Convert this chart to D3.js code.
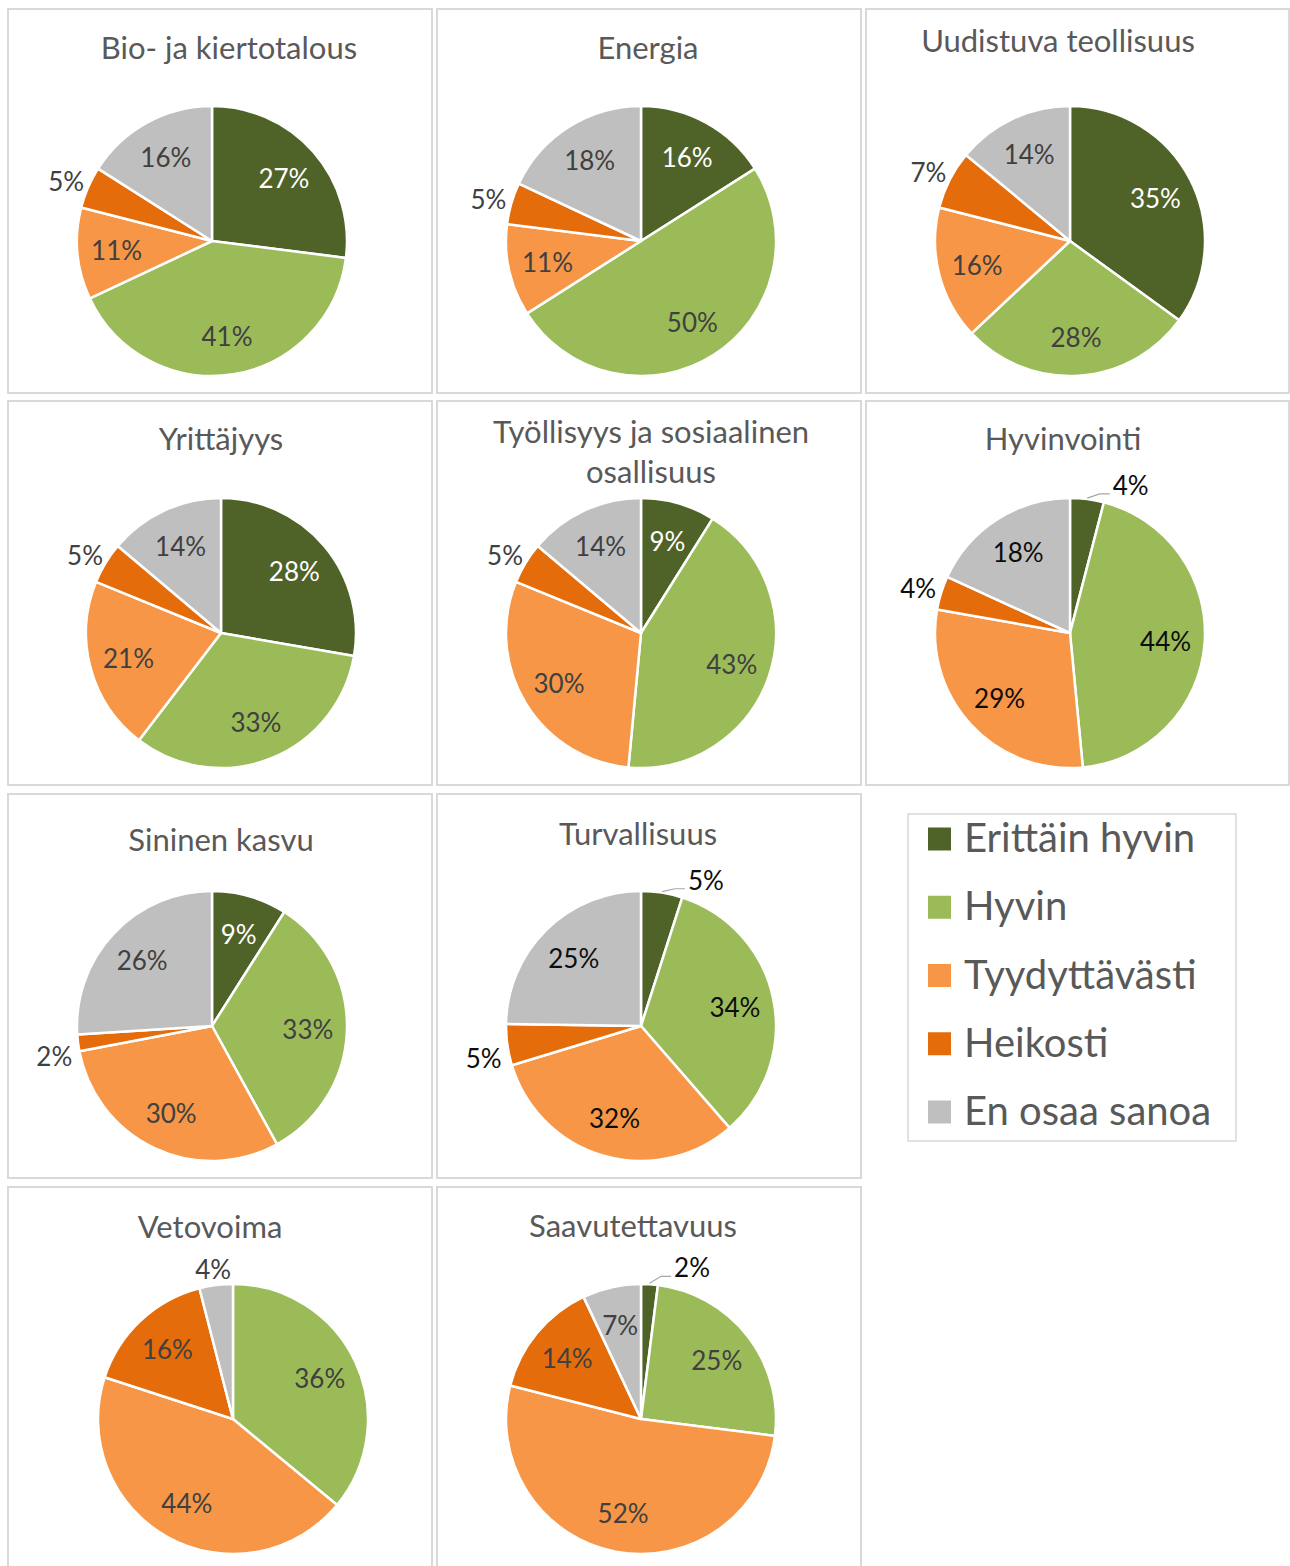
<!DOCTYPE html>
<html><head>
<meta charset="utf-8">
<script src="https://cdn.jsdelivr.net/npm/d3@7"></script>
<style>
body{
  margin: 0px;
  background: #fff;
}
text {
  font-family: Lato, "Open Sans", sans-serif;
}
.panel {
  fill: #fff;
  stroke: #d9d9d9;
  stroke-width: 2px;
}
.title {
  fill: #595959;
  font-size: 31px;
}
.lbl {
  font-size: 26px;
}
.leader {
  fill: none;
  stroke: #a6a6a6;
  stroke-width: 1.2px;
}
</style>
<title>Arviot</title>
</head>
<body>
<script>
var width = 1290,
    height = 1566;

// categories and colours
var categories = ["Erittäin hyvin", "Hyvin", "Tyydyttävästi", "Heikosti", "En osaa sanoa"];
var colors = ["#4f6228", "#9bbb59", "#f79646", "#e46c0a", "#bfbfbf"];

// one array per chart, same order as categories (%)
var bioKierto      = [27, 41, 11, 5, 16];
var energia        = [16, 50, 11, 5, 18];
var uudistuva      = [35, 28, 16, 7, 14];
var yrittajyys     = [28, 33, 21, 5, 14];
var tyollisyys     = [9, 43, 30, 5, 14];
var hyvinvointi    = [4, 44, 29, 4, 18];
var sininenKasvu   = [9, 33, 30, 2, 26];
var turvallisuus   = [5, 34, 32, 5, 25];
var vetovoima      = [0, 36, 44, 16, 4];
var saavutettavuus = [2, 25, 52, 14, 7];

var titles = [
  ["Bio- ja kiertotalous"], ["Energia"], ["Uudistuva teollisuus"],
  ["Yrittäjyys"], ["Työllisyys ja sosiaalinen", "osallisuus"], ["Hyvinvointi"],
  ["Sininen kasvu"], ["Turvallisuus"], ["Vetovoima"], ["Saavutettavuus"]
];
var series = [bioKierto, energia, uudistuva, yrittajyys, tyollisyys, hyvinvointi,
              sininenKasvu, turvallisuus, vetovoima, saavutettavuus];

// layout stuff (not data)
var slots = [0, 1, 2, 3, 4, 5, 6, 7, 9, 10];        // grid slot, 8 is the legend
var titleX = [221, 211, 192, 213, 214, 197, 213, 201, 202, 196];
var titleY = [50, 50, 43, 49, 42, 49, 57, 51, 51, 50];
var pieShift = [0, 0, 0, 9, 0, 0, 0, 0, 21, 0];
var outside = [[3], [3], [3], [3], [3], [0, 3], [3], [0, 3], [4], [0]];
var ink = ["#404040", "#404040", "#404040", "#404040", "#404040", "#0d0d0d",
           "#404040", "#0d0d0d", "#404040", "#404040"];

var colX = [8, 437, 866],
    rowY = [9, 401, 794, 1187],
    panelW = 424,
    panelH = 384,
    r = 135;

var svg = d3.select("body").append("svg")
    .attr("width", width)
    .attr("height", height);

svg.append("rect").attr("width", width).attr("height", height).attr("fill", "#fff");

var color = d3.scaleOrdinal().domain(categories).range(colors);
var pie = d3.pie().sort(null).value(function(d){ return d.v; });
var arc = d3.arc().innerRadius(0).outerRadius(r);

series.forEach(function(vals, i){
  var slot = slots[i];
  var px = colX[slot % 3], py = rowY[Math.floor(slot / 3)];
  var g = svg.append("g").attr("transform", "translate(" + px + "," + py + ")");

  g.append("rect").attr("class", "panel")
    .attr("x", 0).attr("y", 0)
    .attr("width", Math.min(panelW, width - 1 - px)).attr("height", panelH);

  titles[i].forEach(function(t, k){
    g.append("text").attr("class", "title")
      .attr("x", titleX[i]).attr("y", titleY[i] + k * 40)
      .attr("text-anchor", "middle")
      .text(t);
  });

  var cx = 204 + pieShift[i], cy = 232;
  var pg = g.append("g").attr("transform", "translate(" + cx + "," + cy + ")");
  var arcs = pie(vals.map(function(v, k){ return {c: categories[k], v: v, k: k}; }));

  pg.selectAll("path.slice").data(arcs).enter().append("path")
    .attr("class", "slice")
    .attr("d", arc)
    .attr("fill", function(d){ return color(d.data.c); })
    .attr("stroke", "#fff")
    .attr("stroke-width", 2.5)
    .attr("stroke-linejoin", "round");

  arcs.forEach(function(d){
    if (d.data.v <= 0) return;
    var a = (d.startAngle + d.endAngle) / 2;
    var sx = Math.sin(a), sy = -Math.cos(a);
    var txt = d.data.v + "%";
    var isOut = outside[i].indexOf(d.data.k) >= 0;

    var t = pg.append("text").attr("class", "lbl")
      .attr("text-anchor", "middle")
      .attr("dominant-baseline", "central")
      .text(txt);

    if (!isOut) {
      var lr = r * 0.71;
      t.attr("x", lr * sx).attr("y", lr * sy)
        .attr("fill", d.data.k === 0 ? "#fff" : ink[i]);
    } else if (d.data.k === 0) {
      // small first slice: label up right with leader line
      var a2 = a + 15 * Math.PI / 180;
      var lx = 160 * Math.sin(a2), ly = -160 * Math.cos(a2);
      t.attr("x", lx).attr("y", ly).attr("fill", "#0d0d0d");
      var w = t.node().getComputedTextLength();
      var left = lx - w / 2;
      pg.append("polyline").attr("class", "leader")
        .attr("points", [
          [(r + 1) * sx, (r + 1) * sy],
          [left - 13, ly + 9],
          [left - 3, ly + 9]
        ].map(function(p){ return p.join(","); }).join(" "));
    } else {
      var w2 = t.node().getComputedTextLength();
      var ox = (r + 6) * sx + sx * w2 / 2,
          oy = (r + 6) * sy + sy * 10 + (sy > 0 ? 11 : 0);
      t.attr("x", ox).attr("y", oy).attr("fill", ink[i]);
    }
  });
});

// legend
var leg = svg.append("g").attr("transform", "translate(908,814)");
leg.append("rect")
  .attr("width", 328).attr("height", 327)
  .attr("fill", "#fff").attr("stroke", "#cfcfcf").attr("stroke-width", 1.2);

var ly = d3.scalePoint().domain(categories).range([25, 298]);
categories.forEach(function(c){
  leg.append("rect")
    .attr("x", 20).attr("y", ly(c) - 11.5)
    .attr("width", 23).attr("height", 23)
    .attr("fill", color(c));
  leg.append("text")
    .attr("x", 56).attr("y", ly(c) - 2)
    .attr("dominant-baseline", "central")
    .attr("fill", "#595959")
    .attr("font-size", 40)
    .text(c);
});
</script>
</body></html>
